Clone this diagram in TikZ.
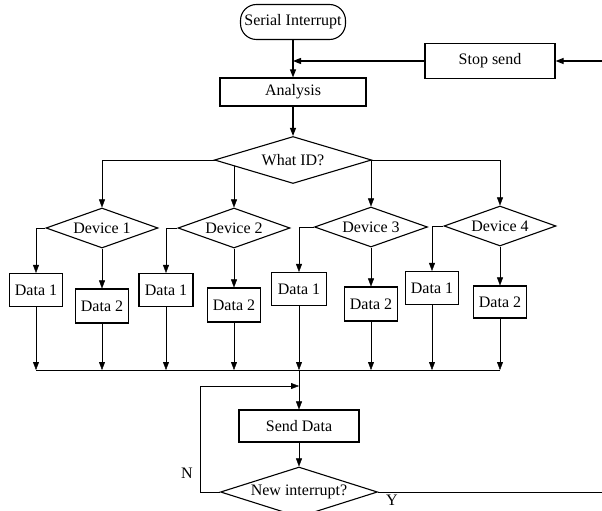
\documentclass[tikz,border=0pt]{standalone}
\usepackage{fontspec}
\setmainfont{Liberation Serif}
\usetikzlibrary{shapes.geometric,arrows.meta,backgrounds}
\begin{document}
\begin{tikzpicture}[x=1pt,y=-1pt,
  line width=1.1pt,
  every node/.style={font=\fontsize{16}{17}\selectfont},
  arr/.style={-{Triangle[length=8pt,width=6pt]}},
  proc/.style 2 args={draw, fill=white, inner sep=0pt, minimum width=#1pt, minimum height=#2pt},
  term/.style 2 args={draw, fill=white, inner sep=0pt, rounded corners=16pt, minimum width=#1pt, minimum height=#2pt},
  decision/.style n args={3}{diamond, draw, fill=white, inner sep=0pt, aspect=#3, minimum width=#1pt, minimum height=#2pt},
  lbl/.style={inner sep=0pt}
]
\useasboundingbox (0,0) rectangle (602,511);
\clip (0,0) rectangle (602,511);

% top
\node[term={105}{35}] (serial) at (293,22) {Serial Interrupt};
\node[proc={130}{35}] (stop) at (490,61) {Stop send};
\node[proc={146}{28}] (analysis) at (293,92) {Analysis};
\node[decision={157}{47}{3.34}] (whatid) at (293,160) {What ID?};

% devices
\node[decision={112}{40}{2.8}] (dev1) at (102,228) {Device 1};
\node[decision={112}{40}{2.8}] (dev2) at (234,228) {Device 2};
\node[decision={113}{40}{2.8}] (dev3) at (371,227) {Device 3};
\node[decision={112}{40}{2.8}] (dev4) at (500,226) {Device 4};

% data boxes
\node[proc={53}{33}] (d11) at (36,290) {Data 1};
\node[proc={53}{34}] (d12) at (102,306) {Data 2};
\node[proc={54}{33}] (d21) at (166,290) {Data 1};
\node[proc={53}{34}] (d22) at (234,305) {Data 2};
\node[proc={55}{33}] (d31) at (299,289) {Data 1};
\node[proc={53}{34}] (d32) at (371,304) {Data 2};
\node[proc={53}{33}] (d41) at (432,288) {Data 1};
\node[proc={53}{32}] (d42) at (500,302) {Data 2};

% bottom
\node[proc={120}{32}] (sendd) at (299,426) {Send Data};
\node[decision={157}{50}{3.14}] (newint) at (299,492) {New interrupt?};
\node[lbl] (nlab) at (187,473) {N};
\node[lbl] (ylab) at (392,500) {Y};

% coordinates
\coordinate (rightin) at (602,61);
\coordinate (rightout) at (602,492);
\coordinate (stopjoin) at (293,61);
\coordinate (busL) at (36,370);
\coordinate (busR) at (500,370);
\coordinate (loopc) at (200,386);
\coordinate (loopjoin) at (299,386);

% connectors top
\draw[arr] (serial) -- (analysis);
\draw[arr] (rightin) -- (stop.east);
\draw[arr] (stop.west) -- (stopjoin);
\draw[arr] (analysis) -- (whatid);

\begin{pgfonlayer}{background}
\draw (whatid.center -| dev1.north) -- (whatid.center -| dev4.north);
\draw[arr] (whatid.center -| dev1.north) -- (dev1.north);
\draw[arr] (whatid.center -| dev2.north) -- (dev2.north);
\draw[arr] (whatid.center -| dev3.north) -- (dev3.north);
\draw[arr] (whatid.center -| dev4.north) -- (dev4.north);
\end{pgfonlayer}

% device branches
\draw[arr] (dev1.west) -| (d11.north);
\draw[arr] (dev1.south) -- (d12.north);
\draw[arr] (dev2.west) -| (d21.north);
\draw[arr] (dev2.south) -- (d22.north);
\draw[arr] (dev3.west) -| (d31.north);
\draw[arr] (dev3.south) -- (d32.north);
\draw[arr] (dev4.west) -| (d41.north);
\draw[arr] (dev4.south) -- (d42.north);

% bus
\draw (busL) -- (busR);
\foreach \d in {d11,d12,d21,d22,d31,d32,d41,d42}
  \draw[arr] (\d.south) -- (\d.south |- busL);
\draw[arr] (busL -| sendd.north) -- (sendd.north);
\draw[arr] (sendd) -- (newint);

% loops
\draw[arr] (newint.west) -| (loopc) -- (loopjoin);
\draw (newint.east) -- (rightout);
\end{tikzpicture}
\end{document}
